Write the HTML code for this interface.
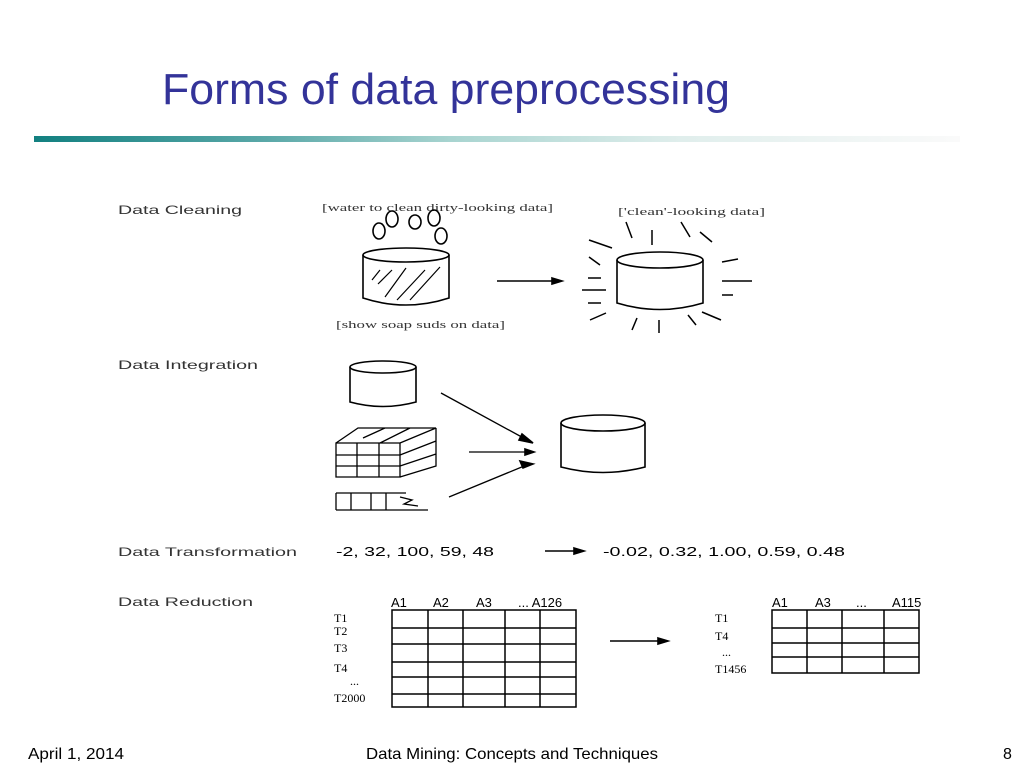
<!DOCTYPE html>
<html><head><meta charset="utf-8"><style>
body{margin:0;background:#fff;}
.s{position:relative;width:1024px;height:768px;overflow:hidden;font-family:"Liberation Sans",sans-serif;}
.bar{position:absolute;left:34px;top:136px;width:926px;height:6px;background:linear-gradient(90deg,#128080 0%,#5aa8a8 25%,#a8d4d0 45%,#e0eeec 70%,#fafafa 100%);}
svg{position:absolute;left:0;top:0;}
</style></head><body><div class="s">
<div class="bar"></div>
<svg width="1024" height="768" viewBox="0 0 1024 768" fill="none" stroke="#000" stroke-width="1.6">
<g font-family="Liberation Sans,sans-serif" stroke="none">
<text x="162" y="104" font-size="44" fill="#333399" textLength="568" lengthAdjust="spacingAndGlyphs">Forms of data preprocessing</text>
<text x="28" y="759" font-size="16" fill="#000" textLength="96" lengthAdjust="spacingAndGlyphs">April 1, 2014</text>
<text x="366" y="759" font-size="16" fill="#000" textLength="292" lengthAdjust="spacingAndGlyphs">Data Mining: Concepts and Techniques</text>
<text x="1003" y="759" font-size="16" fill="#000">8</text>
</g>
<g font-family="Liberation Sans,sans-serif" font-size="12" fill="#333" stroke="none" lengthAdjust="spacingAndGlyphs">
<text x="118" y="214" textLength="124" lengthAdjust="spacingAndGlyphs">Data Cleaning</text>
<text x="118" y="369" textLength="140" lengthAdjust="spacingAndGlyphs">Data Integration</text>
<text x="118" y="556" textLength="179" lengthAdjust="spacingAndGlyphs">Data Transformation</text>
<text x="118" y="606" textLength="135" lengthAdjust="spacingAndGlyphs">Data Reduction</text>
<text x="336" y="556" font-size="13" fill="#000" textLength="158" lengthAdjust="spacingAndGlyphs">-2, 32, 100, 59, 48</text>
<text x="603" y="556" font-size="13" fill="#000" textLength="242" lengthAdjust="spacingAndGlyphs">-0.02, 0.32, 1.00, 0.59, 0.48</text>
</g>
<g font-family="Liberation Serif,serif" font-size="11" fill="#333" stroke="none">
<text x="322" y="211" textLength="231" lengthAdjust="spacingAndGlyphs">[water to clean dirty-looking data]</text>
<text x="618" y="215" textLength="147" lengthAdjust="spacingAndGlyphs">['clean'-looking data]</text>
<text x="336" y="328" textLength="169" lengthAdjust="spacingAndGlyphs">[show soap suds on data]</text>
</g>
<!-- bubbles -->
<ellipse cx="379" cy="231" rx="6" ry="8"/><ellipse cx="392" cy="219" rx="6" ry="8"/><ellipse cx="415" cy="222" rx="6" ry="7"/><ellipse cx="434" cy="218" rx="6" ry="8"/><ellipse cx="441" cy="236" rx="6" ry="8"/>
<!-- dirty cylinder -->
<ellipse cx="406" cy="255" rx="43" ry="7"/>
<path d="M363 255 V298 Q406 312 449 298 V255"/>
<path d="M372 280 L380 270 M378 284 L392 270 M385 297 L406 268 M397 300 L425 270 M410 300 L440 267" stroke-width="1.2"/>
<path d="M497 281 H556"/><path d="M552 278 L562 281 L552 284Z" fill="#000"/>
<!-- clean cylinder -->
<ellipse cx="660" cy="260" rx="43" ry="8"/>
<path d="M617 260 V303 Q660 316 703 303 V260"/>
<path d="M626 222 L632 238 M652 230 V245 M681 222 L690 237 M700 232 L712 242 M589 240 L612 248 M589 257 L600 265 M588 278 H601 M582 290 H606 M588 303 H601 M590 320 L606 313 M632 330 L637 318 M659 320 V333 M688 315 L696 325 M702 312 L721 320 M722 262 L738 259 M722 281 H752 M722 295 H733" stroke-width="1.5"/>
<!-- integration -->
<ellipse cx="383" cy="367" rx="33" ry="6"/>
<path d="M350 367 V402 Q383 411 416 402 V367"/>
<path d="M336 443 H400 V477 H336Z M336 455 H400 M336 466 H400 M357 443 V477 M379 443 V477 M336 443 L358 428 H436 L400 443 M400 477 L436 466 V428 M363 438 L385 428 M380 443 L410 428 M400 455 L436 441 M400 466 L436 454" stroke-width="1.3"/>
<path d="M336 493 H406 M336 510 H428 M336 493 V510 M351 493 V510 M371 493 V510 M386 493 V510 M400 497 L412 500 L404 504 L418 506" stroke-width="1.3"/>
<path d="M441 393 L529 441 M469 452 H530 M449 497 L529 464" stroke-width="1.3"/>
<path d="M522 434 L533 443 L519 440Z M525 449 L534 452 L525 455Z M520 461 L533 464 L523 468Z" fill="#000"/>
<ellipse cx="603" cy="423" rx="42" ry="8"/>
<path d="M561 423 V467 Q603 478 645 467 V423"/>
<!-- transform arrow -->
<path d="M545 551 H578"/><path d="M574 548 L584 551 L574 554Z" fill="#000"/>
<!-- tables -->
<g stroke-width="1.5">
<rect x="392" y="610" width="184" height="97"/>
<path d="M392 628 H576 M392 644 H576 M392 662 H576 M392 677 H576 M392 694 H576 M428 610 V707 M463 610 V707 M505 610 V707 M540 610 V707"/>
<rect x="772" y="610" width="147" height="63"/>
<path d="M772 628 H919 M772 643 H919 M772 657 H919 M807 610 V673 M842 610 V673 M884 610 V673"/>
</g>
<path d="M610 641 H662"/><path d="M658 638 L668 641 L658 644Z" fill="#000"/>
<g font-family="Liberation Sans,sans-serif" font-size="13" fill="#000" stroke="none">
<text x="391" y="607">A1</text><text x="433" y="607">A2</text><text x="476" y="607">A3</text><text x="518" y="607">... A126</text>
<text x="772" y="607">A1</text><text x="815" y="607">A3</text><text x="856" y="607">...</text><text x="892" y="607">A115</text>
</g>
<g font-family="Liberation Serif,serif" font-size="12" fill="#000" stroke="none">
<text x="334" y="622">T1</text><text x="334" y="635">T2</text><text x="334" y="652">T3</text><text x="334" y="672">T4</text><text x="350" y="685">...</text><text x="334" y="702">T2000</text>
<text x="715" y="622">T1</text><text x="715" y="640">T4</text><text x="722" y="656">...</text><text x="715" y="673">T1456</text>
</g>
</svg>
</div></body></html>
